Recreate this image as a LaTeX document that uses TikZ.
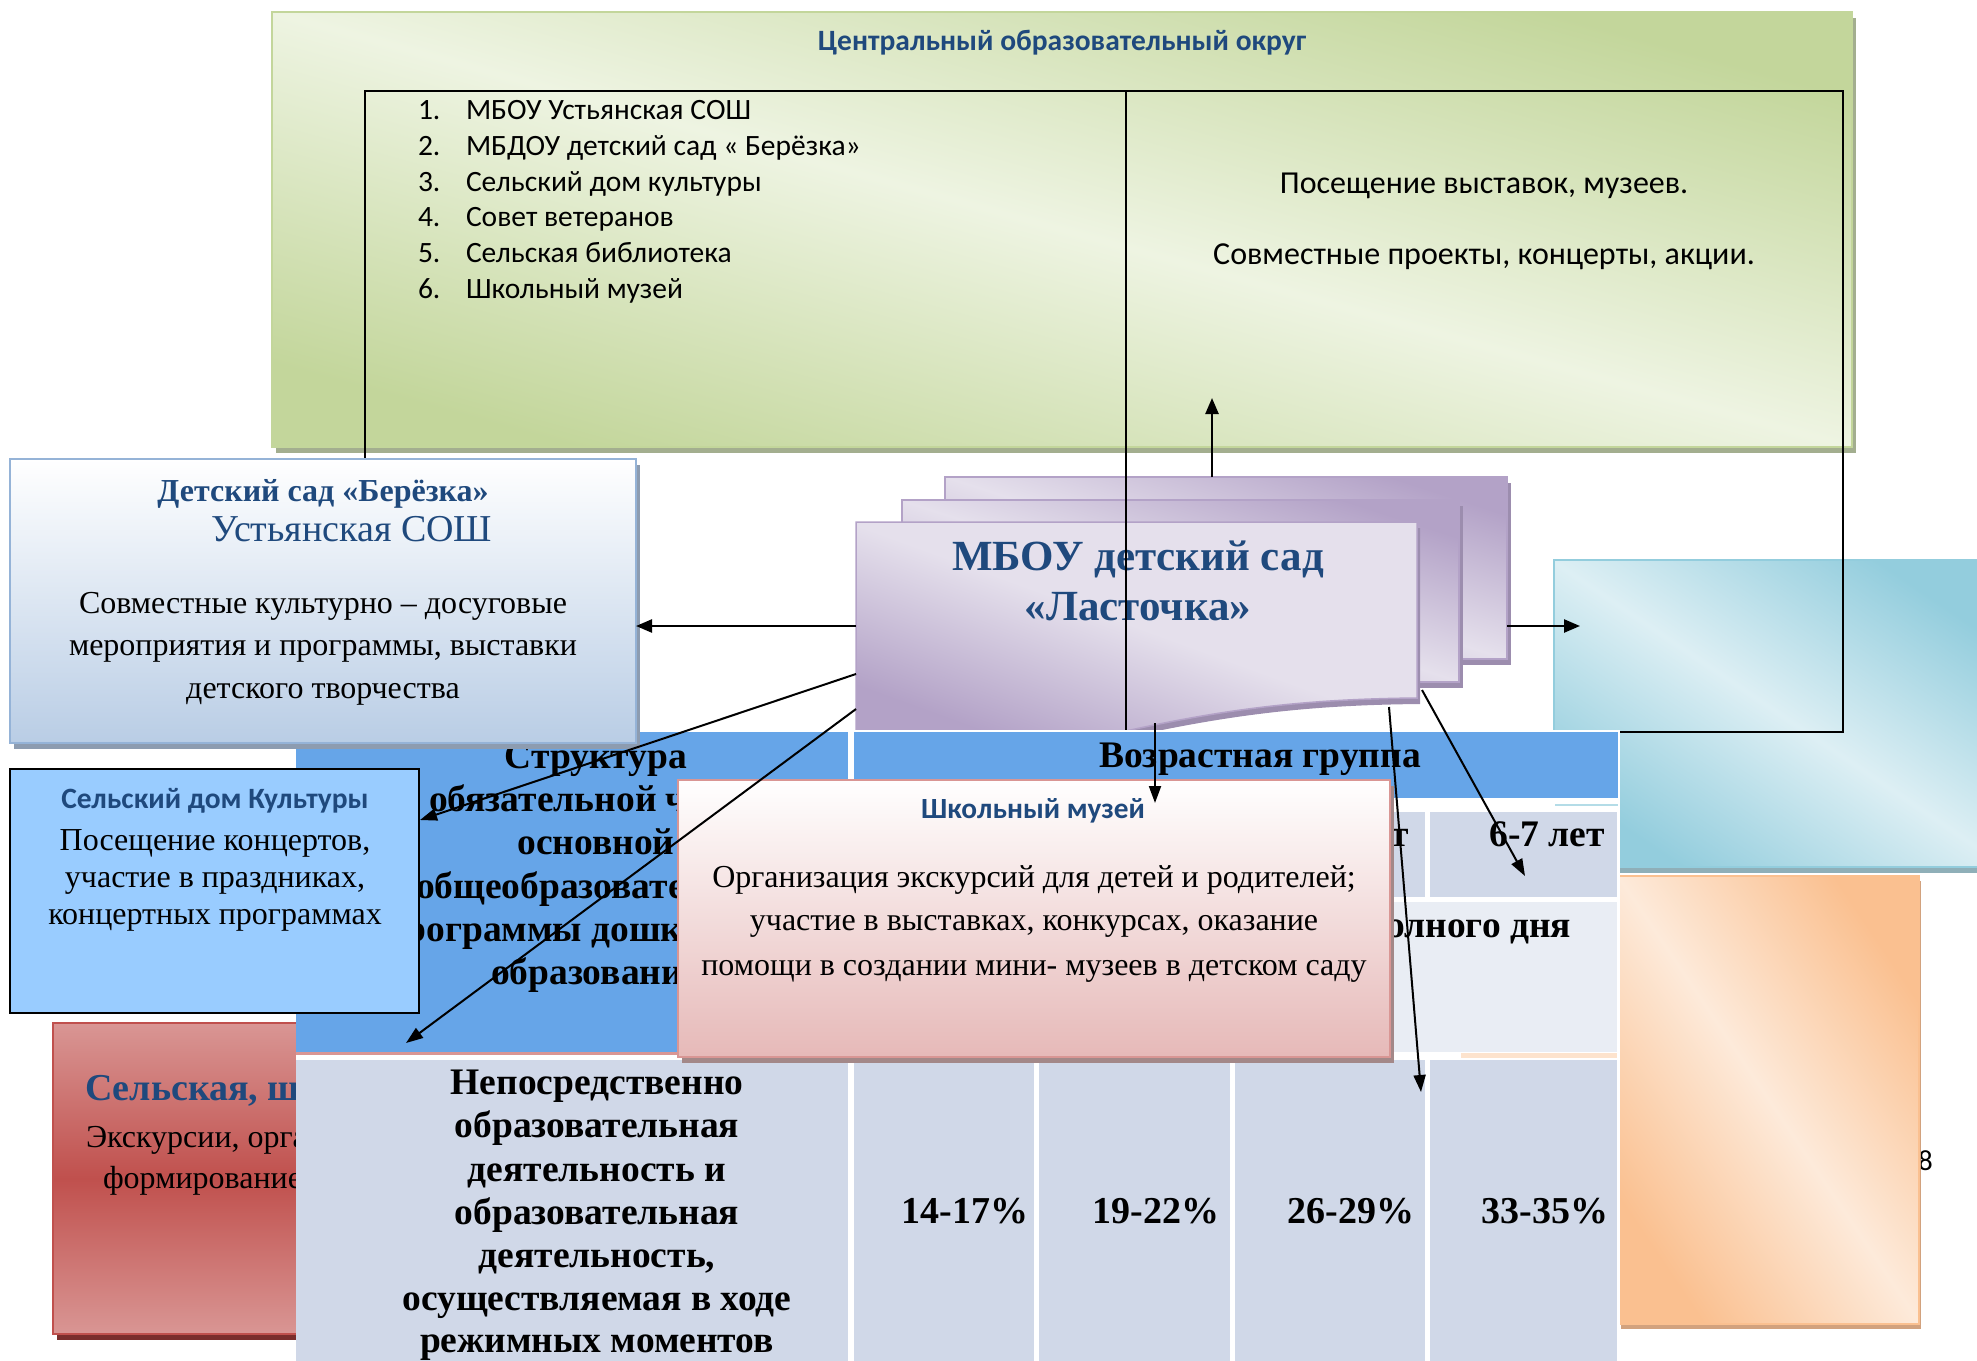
\documentclass[tikz,border=0pt]{standalone}
\usepackage{fontspec}
\setmainfont{Liberation Serif}
\newfontfamily\calib{Carlito}
\usetikzlibrary{arrows.meta,shadows}
\definecolor{navy}{HTML}{1F497D}
\definecolor{gLight}{HTML}{EEF4E2}
\definecolor{gDark}{HTML}{C3D69B}
\definecolor{gShadow}{HTML}{A3AE8F}
\definecolor{cLight}{HTML}{DDEFF4}
\definecolor{cDark}{HTML}{93CDDD}
\definecolor{cShadow}{HTML}{8FAFB8}
\definecolor{oLight}{HTML}{FDEADA}
\definecolor{oDark}{HTML}{FAC090}
\definecolor{oShadow}{HTML}{D2A27E}
\definecolor{pLight}{HTML}{E5E0EC}
\definecolor{pDark}{HTML}{B3A2C7}
\definecolor{pShadow}{HTML}{9C8DAE}
\definecolor{rLight}{HTML}{D99694}
\definecolor{rDark}{HTML}{C0504D}
\definecolor{rShadow}{HTML}{7A2E2C}
\definecolor{bBottom}{HTML}{B9CDE5}
\definecolor{bBorder}{HTML}{95B3D7}
\definecolor{bShadow}{HTML}{8D9CB0}
\definecolor{kBottom}{HTML}{E6B9B8}
\definecolor{kBorder}{HTML}{D99694}
\definecolor{kShadow}{HTML}{A38888}
\definecolor{sdkFill}{HTML}{99CCFF}
\definecolor{tBlue}{HTML}{66A5E8}
\definecolor{tGray}{HTML}{D0D8E8}
\definecolor{tLight}{HTML}{E9EDF4}
\newcommand\fsz[2]{\fontsize{#1}{#2}\selectfont}
\begin{document}
\begin{tikzpicture}[x=1pt,y=-1pt,
  box/.style={anchor=north west,inner sep=0pt,outer sep=0pt},
  dshad/.style={drop shadow={shadow xshift=4pt,shadow yshift=-6pt,fill=#1,opacity=1}},
  diag/.style n args={3}{top color=#1,bottom color=#1,middle color=#2,shading angle=#3},
  arr/.style={line width=2.4pt,-{Triangle[length=16pt,width=13pt]}},
  arrd/.style={line width=2pt,-{Triangle[length=17pt,width=12pt]}},
  lbl/.style={inner sep=0pt,outer sep=0pt,anchor=base},
  lblw/.style={inner sep=0pt,outer sep=0pt,anchor=base west},
  lble/.style={inner sep=0pt,outer sep=0pt,anchor=base east},
  tb/.style={font=\bfseries\fsz{37.5}{43}},
]
\useasboundingbox (0,0) rectangle (1977,1360);
\clip (0,0) rectangle (1977,1360);

% ---------- green district box
\node[box,minimum width=1580pt,minimum height=435pt,draw=gDark,line width=1.5pt,diag={gDark}{gLight}{-15.4},dshad=gShadow] (okrug) at (272,12) {};
\node[lbl,font=\calib\bfseries\fsz{29.5}{34},text=navy] (title) at (1062,50) {Центральный образовательный округ};
\foreach \n/\t/\y in {1/МБОУ Устьянская СОШ/119, 2/МБДОУ детский сад « Берёзка»/155, 3/Сельский дом культуры/191, 4/Совет ветеранов/226, 5/Сельская библиотека/262, 6/Школьный музей/298}{
  \node[lblw,font=\calib\fsz{29.5}{34}] (num\n) at (418,\y) {\n.};
  \node[lblw,font=\calib\fsz{29.5}{34}] (item\n) at (466,\y) {\t};
}
\node[lbl,font=\calib\fsz{32}{38}] (vis) at (1484,193) {Посещение выставок, музеев.};
\node[lbl,font=\calib\fsz{32}{38}] (proj) at (1484,264) {Совместные проекты, концерты, акции.};

% ---------- cyan box
\node[box,minimum width=450pt,minimum height=307pt,draw=cDark,line width=1.5pt,diag={cDark}{cLight}{-34},dshad=cShadow] (cyanbox) at (1554,560) {};

% ---------- orange box
\node[lblw,font=\calib\fsz{29}{34}] (eight) at (1918,1170) {8};
\node[box,minimum width=300pt,minimum height=448pt,draw=oDark,line width=1.5pt,diag={oDark}{oLight}{-56},drop shadow={shadow xshift=2pt,shadow yshift=-5pt,fill=oShadow,opacity=1}] (orange) at (1619,876) {};

% ---------- purple stack
\node[box,minimum width=562pt,minimum height=182pt,draw=pDark,line width=1.5pt,diag={pDark}{pLight}{-18},dshad=pShadow] (sheetA) at (945,477) {};
\node[box,minimum width=557pt,minimum height=182pt,draw=pDark,line width=1.5pt,diag={pDark}{pLight}{-18},dshad=pShadow] (sheetB) at (902,500) {};
\path[draw=pDark,line width=1.5pt,top color=pLight,bottom color=pDark,middle color=pLight,shading angle=-20,
  drop shadow={shadow xshift=3pt,shadow yshift=-6pt,fill=pShadow,opacity=1}]
  (856,522) -- (1417,522) -- (1417,698) .. controls (1310,699) and (1230,708) .. (1126,731) -- (856,731) -- cycle;
\node[lbl,font=\bfseries\fsz{43}{50},text=navy] (mbou1) at (1138,570) {МБОУ детский сад};
\node[lbl,font=\bfseries\fsz{43}{50},text=navy] (mbou2) at (1138,620) {«Ласточка»};

% ---------- big frame
\draw[line width=2pt] (365,91) rectangle (1843,732);
\draw[line width=2.6pt] (365,91) -- (1843,91);
\draw[line width=2pt] (1126,91) -- (1126,732);

% ---------- red box
\node[box,minimum width=250pt,minimum height=311pt,draw=rDark,line width=1.2pt,top color=rLight,bottom color=rLight,middle color=rDark,dshad=rShadow] (redbox) at (53,1023) {};
\node[lblw,font=\bfseries\fsz{38}{44},text=navy] (red1) at (85,1100) {Сельская, шк};
\node[lblw,font=\fsz{32}{40}] (red2) at (86,1147) {Экскурсии, орга};
\node[lblw,font=\fsz{32}{40}] (red3) at (103,1188) {формирование};

% ---------- table
\fill[white] (296,730) rectangle (1620,1365);
\fill[tBlue] (296,732) rectangle (848,1052);
\fill[kBorder] (296,1052) rectangle (848,1055);
\fill[tBlue] (854,732) rectangle (1618,798);
\fill[tGray] (854,812) rectangle (1034,897);
\fill[tGray] (1039,812) rectangle (1230,897);
\fill[tGray] (1235,812) rectangle (1425,897);
\fill[tGray] (1430,812) rectangle (1617,897);
\fill[tLight] (854,902) rectangle (1617,1052);
\fill[tGray] (296,1060) rectangle (848,1365);
\fill[tGray] (854,1060) rectangle (1034,1365);
\fill[tGray] (1039,1060) rectangle (1230,1365);
\fill[tGray] (1235,1060) rectangle (1425,1365);
\fill[tGray] (1430,1060) rectangle (1617,1365);
\fill[cDark!70] (1555,804) rectangle (1618,806);
\fill[oDark!45] (1461,1053) rectangle (1617,1058);

\node[lbl,tb] (hd1) at (596,768) {Структура};
\node[lblw,tb] (hd2) at (429,811) {обязательной ч};
\node[lbl,tb] (hd3) at (596,854) {основной};
\node[lblw,tb] (hd4) at (416,898) {общеобразовате};
\node[lblw,tb] (hd5) at (384,941) {программы дошк};
\node[lblw,tb] (hd6) at (491,984) {образовани};
\node[lbl,tb] (age) at (1260,767) {Возрастная группа};
\node[lble,tb] (age56) at (1409,846) {5-6 лет};
\node[lble,tb] (age67) at (1605,846) {6-7 лет};
\node[lble,tb] (fullday) at (1571,937) {полного дня};
\foreach \t/\y [count=\i] in {Непосредственно/1094, образовательная/1137, деятельность и/1181, образовательная/1224, {деятельность,}/1267, осуществляемая в ходе/1310, режимных моментов/1352}{
  \node[lbl,tb] (nod\i) at (597,\y) {\t};
}
\node[lble,font=\bfseries\fsz{38}{43}] (pc1) at (1028,1223) {14-17\%};
\node[lble,font=\bfseries\fsz{38}{43}] (pc2) at (1219,1223) {19-22\%};
\node[lble,font=\bfseries\fsz{38}{43}] (pc3) at (1414,1223) {26-29\%};
\node[lble,font=\bfseries\fsz{38}{43}] (pc4) at (1608,1223) {33-35\%};

% ---------- Berezka box
\node[box,minimum width=626pt,minimum height=284pt,draw=bBorder,line width=2.5pt,top color=white,bottom color=bBottom,dshad=bShadow] (berezka) at (10,459) {};
\node[lbl,font=\bfseries\fsz{32}{40},text=navy] (ber1) at (323,501) {Детский сад «Берёзка»};
\node[lbl,font=\fsz{38}{42},text=navy] (ber2) at (352,541) {Устьянская СОШ};
\node[lbl,font=\fsz{32}{42}] (ber3) at (323,613) {Совместные культурно – досуговые};
\node[lbl,font=\fsz{32}{42}] (ber4) at (323,655) {мероприятия и программы, выставки};
\node[lbl,font=\fsz{32}{42}] (ber5) at (323,698) {детского творчества};

% ---------- Selsky dom kultury box
\node[box,minimum width=409pt,minimum height=244pt,draw=black,line width=2pt,fill=sdkFill] (sdk) at (10,769) {};
\node[lbl,font=\calib\bfseries\fsz{29.5}{34},text=navy] (sdk1) at (215,808) {Сельский дом Культуры};
\node[lbl,font=\fsz{32}{37}] (sdk2) at (215,850) {Посещение концертов,};
\node[lbl,font=\fsz{32}{37}] (sdk3) at (215,887) {участие в праздниках,};
\node[lbl,font=\fsz{32}{37}] (sdk4) at (215,924) {концертных программах};

% ---------- school museum box
\node[box,minimum width=712pt,minimum height=277pt,draw=kBorder,line width=2.5pt,top color=white,bottom color=kBottom,dshad=kShadow] (muzei) at (678,780) {};
\node[lbl,font=\calib\bfseries\fsz{29.3}{34},text=navy] (mz1) at (1033,818) {Школьный музей};
\node[lbl,font=\fsz{32}{44}] (mz2) at (1034,887) {Организация экскурсий для детей и родителей;};
\node[lbl,font=\fsz{32}{44}] (mz3) at (1034,930) {участие в выставках, конкурсах, оказание};
\node[lbl,font=\fsz{32}{44}] (mz4) at (1034,975) {помощи в создании мини- музеев в детском саду};

% ---------- connectors
\coordinate (pL) at (856,626);
\coordinate (pR) at (1507,626);
\coordinate (pT) at (1212,477);
\coordinate (pS1) at (856,674);
\coordinate (pS2) at (856,709);
\coordinate (pB1) at (1155,723);
\coordinate (pB2) at (1389,707);
\coordinate (pB3) at (1422,690);
\coordinate (tOk) at (1212,398);
\coordinate (tCy) at (1580,626);
\coordinate (tSdk) at (420,820);
\coordinate (tTab) at (406,1043);
\coordinate (tMu) at (1155,803);
\coordinate (tPct) at (1421,1092);
\coordinate (tAge) at (1525,876);
\draw[arr] (pL) -- (berezka.east |- pL);
\draw[arr] (pR) -- (tCy);
\draw[arr] (pT) -- (tOk);
\draw[arrd] (pS1) -- (tSdk);
\draw[arrd] (pS2) -- (tTab);
\draw[arrd] (pB1) -- (tMu);
\draw[arrd] (pB2) -- (tPct);
\draw[arrd] (pB3) -- (tAge);
\end{tikzpicture}
\end{document}
